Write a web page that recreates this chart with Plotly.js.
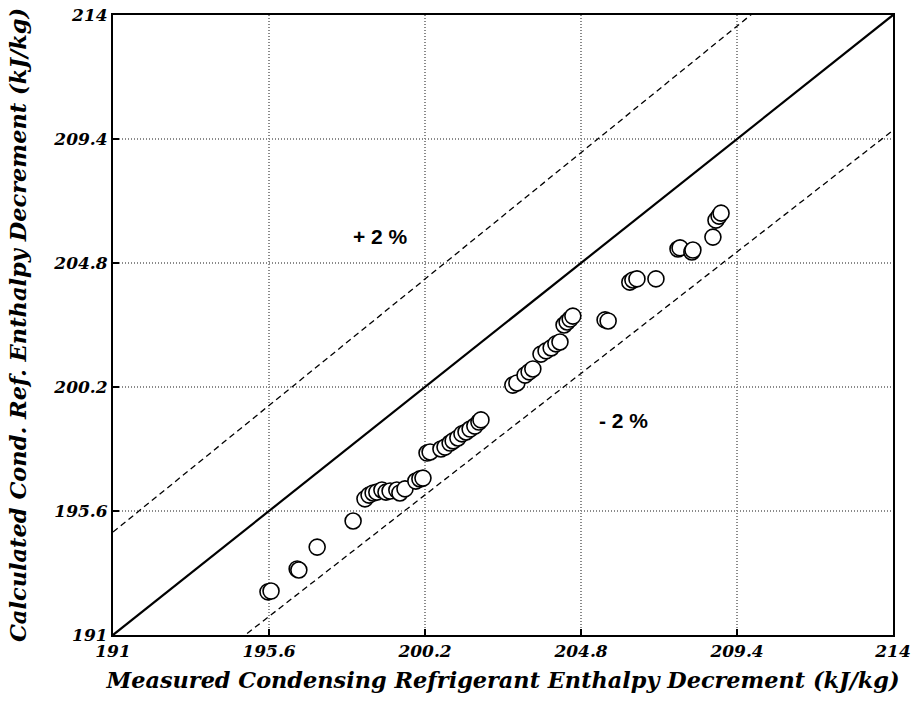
<!DOCTYPE html>
<html>
<head>
<meta charset="utf-8">
<script src="https://cdn.plot.ly/plotly-3.0.1.min.js"></script>
<style>
  html, body { margin: 0; padding: 0; background: #fff; }
  #chart { width: 916px; height: 713px; }
</style>
</head>
<body>
<div id="chart"></div>
<script>
// Measured vs. calculated condensing refrigerant enthalpy decrement (kJ/kg)
const measured = [
  195.57, 195.66, 196.43, 196.48, 197.02, 198.08, 198.43, 198.55, 198.67, 198.78,
  198.93, 199.05, 199.17, 199.37, 199.46, 199.61, 199.93, 200.05, 200.14, 200.26,
  200.35, 200.67, 200.79, 200.94, 201.03, 201.17, 201.29, 201.41, 201.53, 201.67,
  201.79, 201.85, 202.79, 202.91, 203.15, 203.27, 203.38, 203.62, 203.77, 203.92,
  204.06, 204.18, 204.30, 204.39, 204.48, 204.56, 205.51, 205.60, 206.24, 206.33,
  206.45, 207.01, 207.66, 207.72, 208.07, 208.10, 208.69, 208.78, 208.87, 208.93
];
const calculated = [
  192.60, 192.63, 193.45, 193.41, 194.26, 195.23, 196.05, 196.19, 196.27, 196.30,
  196.38, 196.30, 196.34, 196.38, 196.27, 196.42, 196.71, 196.79, 196.82, 197.75,
  197.79, 197.90, 197.97, 198.12, 198.20, 198.31, 198.46, 198.53, 198.64, 198.75,
  198.90, 198.98, 200.27, 200.35, 200.64, 200.76, 200.87, 201.42, 201.54, 201.65,
  201.80, 201.87, 202.50, 202.61, 202.72, 202.83, 202.69, 202.65, 204.09, 204.17,
  204.21, 204.21, 205.32, 205.36, 205.21, 205.28, 205.76, 206.39, 206.54, 206.65
];

// Axis range and tick positions (same on both axes)
const axisRange = [191, 214];
const tickValues = [191, 195.6, 200.2, 204.8, 209.4, 214];
const tickLabels = ["191", "195.6", "200.2", "204.8", "209.4", "214"];

// Reference lines: perfect agreement and the ±2 % band
const refX = [191, 214];
const bandFraction = 0.02;
const bandLabels = ["+ 2 %", "- 2 %"];

const serif = "DejaVu Serif";
const sans = "Liberation Sans";

const traces = [
  {
    x: refX, y: refX.map(v => v * (1 + bandFraction)),
    mode: "lines", line: {color: "#000", width: 1.3, dash: "6px,4px"},
    hoverinfo: "skip", showlegend: false
  },
  {
    x: refX, y: refX.map(v => v * (1 - bandFraction)),
    mode: "lines", line: {color: "#000", width: 1.3, dash: "6px,4px"},
    hoverinfo: "skip", showlegend: false
  },
  {
    x: refX, y: refX,
    mode: "lines", line: {color: "#000", width: 2.2},
    hoverinfo: "skip", showlegend: false
  },
  {
    x: measured, y: calculated,
    mode: "markers",
    marker: {size: 16, color: "#fff", line: {color: "#000", width: 1.6}},
    showlegend: false
  }
];

const axisCommon = {
  range: axisRange,
  tickmode: "array",
  tickvals: tickValues,
  ticktext: tickLabels,
  ticks: "inside",
  ticklen: 6,
  tickwidth: 1.2,
  tickcolor: "#000",
  showgrid: true,
  gridcolor: "#8a8a8a",
  griddash: "1px,2px",
  gridwidth: 1.3,
  zeroline: false,
  showline: true,
  linecolor: "#000",
  linewidth: 2,
  mirror: true,
  tickfont: {family: serif, size: 17, color: "#000", weight: "bold", style: "italic"}
};

const layout = {
  width: 916,
  height: 713,
  margin: {l: 113, r: 23, t: 15, b: 78},
  paper_bgcolor: "#fff",
  plot_bgcolor: "#fff",
  xaxis: Object.assign({}, axisCommon, {
    title: {
      text: "Measured Condensing Refrigerant Enthalpy Decrement (kJ/kg)",
      font: {family: serif, size: 22.4, color: "#000", weight: "bold", style: "italic"},
      standoff: 12
    }
  }),
  yaxis: Object.assign({}, axisCommon, {
    title: {
      text: "Calculated Cond. Ref. Enthalpy Decrement (kJ/kg)",
      font: {family: serif, size: 22.5, color: "#000", weight: "bold", style: "italic"},
      standoff: 20
    }
  }),
  annotations: [
    {x: 198.9, y: 205.8, xref: "x", yref: "y", text: bandLabels[0], showarrow: false,
     font: {family: sans, size: 21, color: "#000", weight: "bold"}},
    {x: 206.05, y: 198.95, xref: "x", yref: "y", text: bandLabels[1], showarrow: false,
     font: {family: sans, size: 21, color: "#000", weight: "bold"}}
  ]
};

Plotly.newPlot("chart", traces, layout, {displayModeBar: false, staticPlot: true});
</script>
</body>
</html>
